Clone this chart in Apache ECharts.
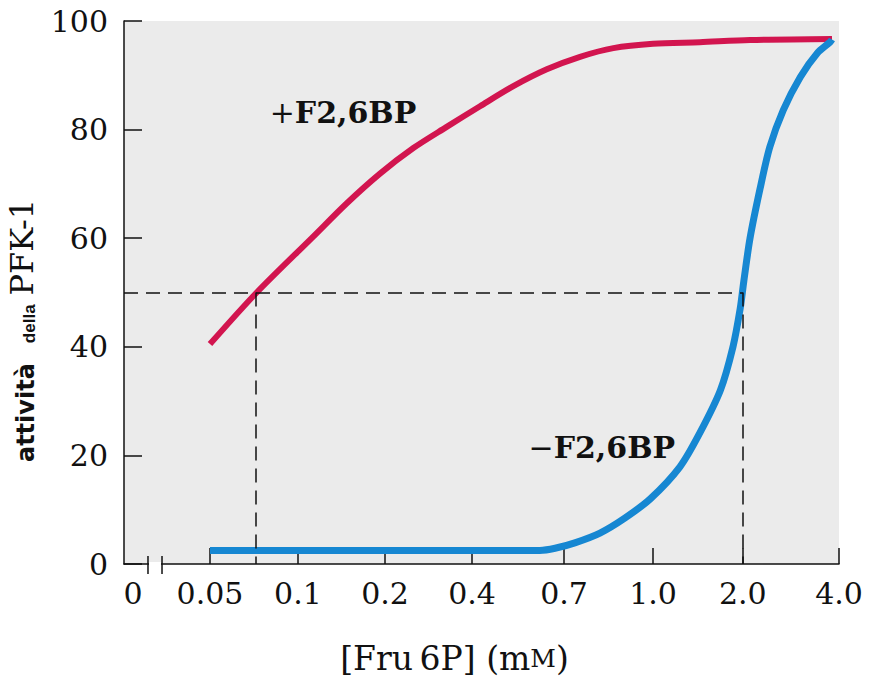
<!DOCTYPE html>
<html>
<head>
<meta charset="utf-8">
<script src="https://cdn.jsdelivr.net/npm/echarts@6/dist/echarts.min.js"></script>
<style>
html,body{margin:0;padding:0;background:#fff;}
#chart{width:871px;height:683px;}
</style>
</head>
<body>
<div id="chart"></div>
<script>
// X axis is a schematic (non-linear) concentration axis: ticks are placed in "tick units"
const xTickLabels = ['0', '0.05', '0.1', '0.2', '0.4', '0.7', '1.0', '2.0', '4.0'];
const xTickPos    = [-0.857, 0, 0.979, 1.948, 2.916, 3.94, 4.93, 5.93, 7];
const xMin = -0.957;
const xMax = 7;
const xBreakPos = [-0.69, -0.534];

const yMin = 0, yMax = 100, yInterval = 20;

// +F2,6BP curve [x in tick units, activity]
const plusF26BP = [
  [0, 40.5], [0.52, 50], [1.149, 60.3], [1.52, 66.4], [1.892, 71.9],
  [2.263, 76.6], [2.634, 80.5], [3.005, 84.3], [3.376, 88.0], [3.748, 91.1],
  [4.118, 93.4], [4.489, 95.0], [4.93, 95.8], [5.45, 96.1], [6.01, 96.5], [6.922, 96.7]
];
// -F2,6BP curve
const minusF26BP = [
  [0, 2.5], [1.0, 2.5], [2.0, 2.5], [3.0, 2.5], [3.67, 2.5], [3.84, 2.9], [4.06, 3.9],
  [4.34, 5.7], [4.62, 8.5], [4.90, 12.0], [5.23, 17.9], [5.45, 24.1], [5.68, 32],
  [5.82, 40], [5.90, 47], [5.94, 52], [6.01, 60], [6.12, 69.0], [6.23, 76.8],
  [6.38, 83.6], [6.57, 89.7], [6.76, 94.1], [6.90, 96.1], [6.922, 96.6]
];

const halfActivity = 50;
const halfPlusX = 0.51;   // Fru6P giving half-max activity with F2,6BP
const halfMinusX = 5.93;  // Fru6P giving half-max activity without F2,6BP (2.0)

const labelPlus = { text: '+F2,6BP', at: [1.48, 83.2] };
const labelMinus = { text: '\u2212F2,6BP', at: [4.36, 21.5] };

const serif = 'DejaVu Serif';
const ink = '#111';
const red = '#d2154f';
const blue = '#1687d2';

const chart = echarts.init(document.getElementById('chart'), null, { renderer: 'svg' });

function curveLabel(obj) {
  return {
    symbol: 'circle', symbolSize: 1,
    itemStyle: { color: 'rgba(0,0,0,0)' },
    label: {
      show: true, position: 'inside',
      formatter: '{s|' + obj.text.charAt(0) + '}{t|' + obj.text.slice(1) + '}',
      rich: {
        s: { fontFamily: serif, fontSize: 30, color: ink, fontWeight: 'normal' },
        t: { fontFamily: serif, fontSize: 30, color: ink, fontWeight: 'bold' }
      }
    },
    data: [{ coord: obj.at }]
  };
}

const option = {
  animation: false,
  backgroundColor: '#ffffff',
  grid: {
    left: 124, right: 32, top: 21, bottom: 119,
    outerBoundsMode: 'none', containLabel: false,
    show: true, backgroundColor: '#ebebeb', borderWidth: 0
  },
  xAxis: {
    type: 'value', min: xMin, max: xMax,
    name: '{n|[Fru\u20096P] (m}{sc|M}{n|)}',
    nameLocation: 'middle', nameGap: 78,
    nameTextStyle: {
      padding: [0, 54, 0, 0],
      rich: {
        n: { fontFamily: serif, fontSize: 33, color: ink },
        sc: { fontFamily: serif, fontSize: 25, color: ink }
      }
    },
    axisLine: { show: true, onZero: false, lineStyle: { color: ink, width: 1.5 } },
    axisTick: { show: true, inside: true, length: 16, customValues: xTickPos.slice(1), lineStyle: { color: ink, width: 1.5 } },
    axisLabel: {
      customValues: xTickPos, margin: 14,
      fontFamily: serif, fontSize: 30, color: ink,
      formatter: function (v) {
        const i = xTickPos.findIndex(function (p) { return Math.abs(p - v) < 1e-6; });
        return i >= 0 ? xTickLabels[i] : '';
      }
    },
    splitLine: { show: false }
  },
  yAxis: {
    type: 'value', min: yMin, max: yMax, interval: yInterval,
    name: '{a|attività}{b|della}{c|PFK-1}',
    nameLocation: 'middle', nameRotate: 90, nameGap: 86,
    nameTextStyle: {
      padding: [0, 76, 0, 0],
      rich: {
        a: { fontFamily: 'DejaVu Sans', fontWeight: 'bold', fontSize: 24, color: ink, verticalAlign: 'bottom', padding: [0, 20, 0, 0] },
        b: { fontFamily: 'Liberation Sans', fontWeight: 'bold', fontSize: 17, color: ink, verticalAlign: 'bottom', padding: [0, 9, 0, 0] },
        c: { fontFamily: serif, fontSize: 32, color: ink, verticalAlign: 'bottom' }
      }
    },
    axisLine: { show: true, onZero: false, lineStyle: { color: ink, width: 1.5 } },
    axisTick: { show: true, inside: true, length: 18, lineStyle: { color: ink, width: 1.5 } },
    axisLabel: { margin: 16, fontFamily: serif, fontSize: 30, color: ink },
    splitLine: { show: false }
  },
  series: [
    {
      type: 'line', data: [], z: 1, silent: true,
      markLine: {
        silent: true, symbol: 'none', label: { show: false },
        lineStyle: { color: ink, width: 1.5, type: [14, 8] },
        data: [
          [{ coord: [xMin, halfActivity] }, { coord: [halfMinusX, halfActivity] }],
          [{ coord: [halfPlusX, halfActivity] }, { coord: [halfPlusX, yMin] }],
          [{ coord: [halfMinusX, halfActivity] }, { coord: [halfMinusX, yMin] }]
        ]
      }
    },
    {
      name: '+F2,6BP', type: 'line', data: plusF26BP, z: 3,
      smooth: 0.3, showSymbol: false, symbol: 'none',
      lineStyle: { color: red, width: 6 },
      markPoint: curveLabel(labelPlus)
    },
    {
      name: '-F2,6BP', type: 'line', data: minusF26BP, z: 4,
      smooth: 0.3, showSymbol: false, symbol: 'none',
      lineStyle: { color: blue, width: 7 },
      markPoint: curveLabel(labelMinus)
    }
  ]
};
chart.setOption(option);

// axis break marks on the x axis between 0 and 0.05
const b1 = chart.convertToPixel({ gridIndex: 0 }, [xBreakPos[0], yMin]);
const b2 = chart.convertToPixel({ gridIndex: 0 }, [xBreakPos[1], yMin]);
chart.setOption({
  graphic: [
    { type: 'rect', z: 100, shape: { x: b1[0] + 1, y: b1[1] - 2, width: b2[0] - b1[0] - 2, height: 4 }, style: { fill: '#ffffff' } },
    { type: 'line', z: 101, shape: { x1: b1[0], y1: b1[1] - 8, x2: b1[0], y2: b1[1] + 10 }, style: { stroke: ink, lineWidth: 1.5 } },
    { type: 'line', z: 101, shape: { x1: b2[0], y1: b2[1] - 8, x2: b2[0], y2: b2[1] + 10 }, style: { stroke: ink, lineWidth: 1.5 } }
  ]
});
</script>
</body>
</html>
